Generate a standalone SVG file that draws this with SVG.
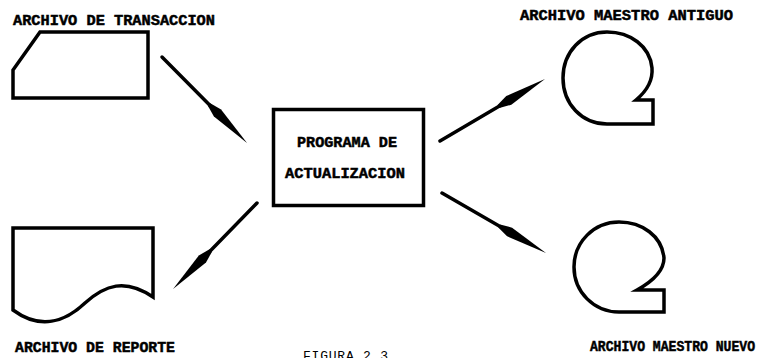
<svg xmlns="http://www.w3.org/2000/svg" width="761" height="358" viewBox="0 0 761 358">
  <style>
    .shape { fill: none; stroke: #000; stroke-width: 3.5; stroke-linejoin: miter; }
    .label { font-family: "Liberation Mono", "DejaVu Sans Mono", monospace; font-weight: bold; font-size: 15px; fill: #000; stroke: #000; stroke-width: 0.5; }
    .caption { font-family: "Liberation Mono", "DejaVu Sans Mono", monospace; font-size: 13px; fill: #000; }
    .flow { stroke: #000; stroke-width: 3.5; stroke-linecap: round; marker-end: url(#spindle); }
  </style>
  <defs>
    <!-- spindle-shaped arrowhead: line ends at its widest point, head runs 42px to the tip -->
    <marker id="spindle" markerUnits="userSpaceOnUse" orient="auto" refX="0" refY="0"
            markerWidth="60" markerHeight="12" viewBox="-14 -6 60 12" overflow="visible">
      <path d="M-12,-1.75 L0,-5 L42,0 L0,5 L-12,1.75 Z" fill="#000"/>
    </marker>
  </defs>
  <rect width="761" height="358" fill="#fff"/>

  <g id="archivo-transaccion">
    <polygon class="shape" points="40,32 148,32 148,98 13,98 13,70"/>
    <text class="label" x="13" y="25" textLength="202" lengthAdjust="spacingAndGlyphs">ARCHIVO DE TRANSACCION</text>
  </g>

  <g id="programa-actualizacion">
    <rect class="shape" x="273.5" y="109.5" width="150" height="96" stroke-width="3"/>
    <text class="label" x="297" y="147" textLength="100" lengthAdjust="spacingAndGlyphs">PROGRAMA DE</text>
    <text class="label" x="285" y="178" textLength="120" lengthAdjust="spacingAndGlyphs">ACTUALIZACION</text>
  </g>

  <g id="archivo-maestro-antiguo">
    <path class="shape" d="M636,100 C648,90 653,80 652,68 C650,46 630,32 607,32 C582,32 563,52 563,78 C563,104 582,124 607,124 L653,124 L653,100 Z"/>
    <text class="label" x="520" y="20" textLength="213" lengthAdjust="spacingAndGlyphs">ARCHIVO MAESTRO ANTIGUO</text>
  </g>

  <g id="archivo-reporte">
    <path class="shape" d="M13,228 L153,228 L153,297 C125,278 105,285 85,303 C65,322 40,330 13,310 Z"/>
    <text class="label" x="15" y="351.5" textLength="160" lengthAdjust="spacingAndGlyphs">ARCHIVO DE REPORTE</text>
  </g>

  <g id="archivo-maestro-nuevo">
    <path class="shape" d="M637,290 C655,280 664,270 664,258 C662,236 642,222 619,222 C594,222 574,242 574,267 C574,292 594,312 619,312 L664,312 L664,290 Z"/>
    <text class="label" x="590" y="350.5" font-size="14" textLength="165" lengthAdjust="spacingAndGlyphs">ARCHIVO MAESTRO NUEVO</text>
  </g>

  <g id="connectors">
    <line class="flow" x1="162" y1="57" x2="217.5" y2="113.1"/>
    <line class="flow" x1="440" y1="141" x2="508.8" y2="100.4"/>
    <line class="flow" x1="442" y1="193" x2="509.6" y2="232"/>
    <line class="flow" x1="257" y1="203" x2="202.4" y2="259"/>
  </g>

  <text class="caption" x="303" y="360" textLength="85" lengthAdjust="spacing">FIGURA 2.3</text>
</svg>
